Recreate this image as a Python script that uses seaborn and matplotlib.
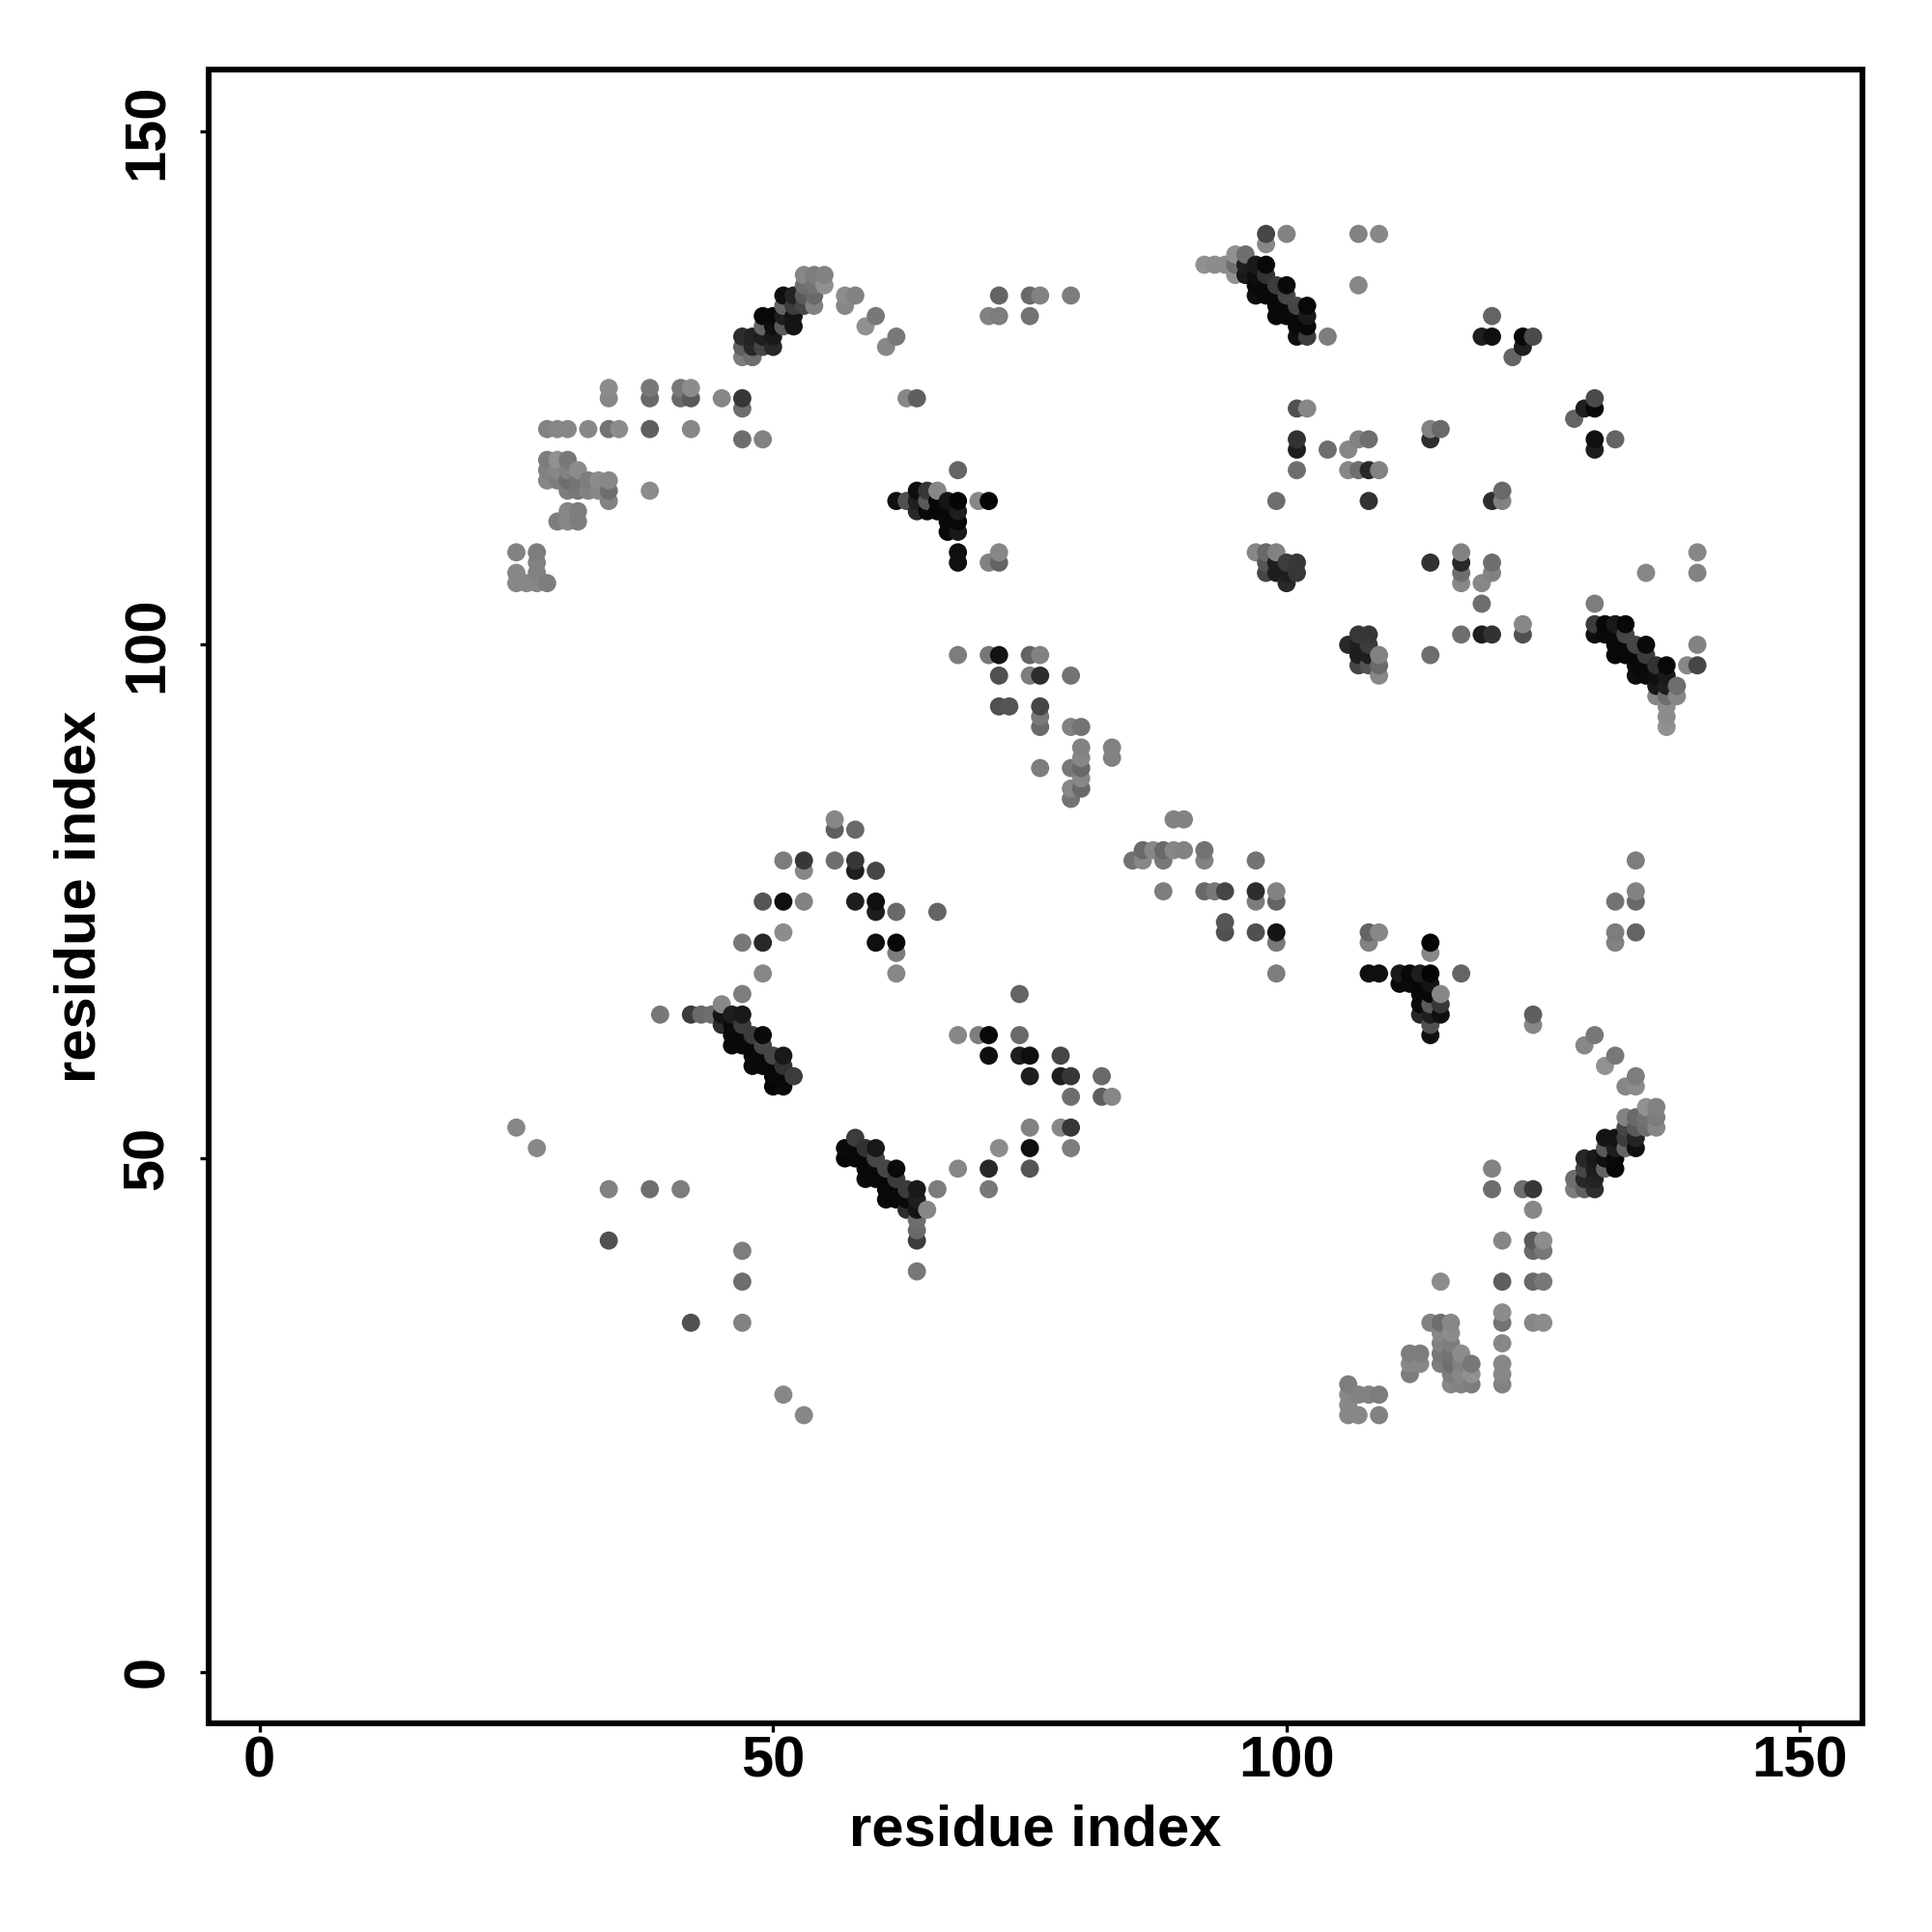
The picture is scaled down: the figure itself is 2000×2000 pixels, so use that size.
import pandas as pd
import seaborn as sns
import matplotlib.pyplot as plt

# residue on the x axis, then for each one its contacts and their grey level
residue_x = [25, 26, 27, 28, 29, 30, 31, 32, 33, 34, 35, 38, 39, 41, 42, 43, 44, 45, 46, 47,
             48, 49, 50, 51, 52, 53, 54, 55, 56, 57, 58, 59, 60, 61, 62, 63, 64, 65, 66, 67,
             68, 70, 71, 72, 73, 74, 75, 76, 78, 79, 80, 82, 83, 85, 86, 87, 88, 89, 90, 92,
             93, 94, 95, 96, 97, 98, 99, 100, 101, 102, 104, 106, 107, 108, 109, 111, 112, 113, 114, 115,
             116, 117, 118, 119, 120, 121, 122, 123, 124, 125, 128, 129, 130, 131, 132, 133, 134, 135, 136, 137,
             138, 139, 140]

residue_y = [
    [53, 106, 107, 109],
    [106],
    [51, 106, 107, 108, 109],
    [106, 116, 117, 118, 121],
    [112, 116, 117, 118, 121],
    [112, 113, 115, 116, 117, 118, 121],
    [112, 113, 115, 116, 117],
    [115, 116, 121],
    [115, 116],
    [42, 47, 114, 115, 116, 121, 124, 125],
    [121],
    [47, 115, 121, 124, 125],
    [64],
    [47, 124, 125],
    [34, 64, 121, 124, 125],
    [64],
    [64],
    [63, 64, 65, 124],
    [61, 62, 63, 64],
    [34, 38, 41, 61, 62, 63, 64, 66, 71, 120, 123, 124, 128, 129, 130],
    [59, 60, 61, 62, 128, 129, 130],
    [59, 60, 61, 62, 68, 71, 75, 120, 129, 130, 131, 132],
    [57, 58, 59, 60, 129, 130, 131, 132],
    [27, 57, 58, 59, 60, 72, 75, 79, 131, 132, 133, 134],
    [58, 131, 132, 133, 134],
    [25, 75, 78, 79, 133, 134, 135, 136],
    [133, 134, 135, 136],
    [135, 136],
    [79, 82, 83],
    [50, 51, 133, 134],
    [50, 51, 52, 75, 78, 79, 82, 134],
    [48, 49, 50, 51, 131],
    [48, 49, 50, 51, 71, 74, 75, 78, 132],
    [46, 47, 48, 49, 129],
    [46, 47, 48, 49, 68, 70, 71, 74, 114, 130],
    [45, 46, 47, 114, 124],
    [39, 42, 43, 44, 45, 46, 47, 113, 114, 115, 124],
    [45, 113, 114, 115],
    [47, 74, 113, 114, 115],
    [111, 112, 113, 114],
    [49, 62, 99, 108, 109, 111, 112, 113, 114, 117],
    [62, 114],
    [47, 49, 60, 62, 99, 108, 114, 132],
    [51, 94, 97, 99, 108, 109, 132, 134],
    [94],
    [60, 62, 66],
    [49, 51, 53, 58, 60, 97, 99, 132, 134],
    [88, 92, 93, 94, 97, 99, 134],
    [53, 58, 60],
    [51, 53, 56, 58, 85, 86, 88, 92, 97, 134],
    [86, 87, 88, 89, 90, 92],
    [56, 58],
    [56, 89, 90],
    [79],
    [79, 80],
    [80],
    [76, 79, 80],
    [80, 83],
    [80, 83],
    [76, 79, 80, 137],
    [76, 137],
    [72, 73, 76, 137],
    [136, 137, 138],
    [136, 137, 138],
    [72, 75, 76, 79, 109, 134, 135, 136, 137],
    [107, 108, 109, 134, 135, 136, 137, 139, 140],
    [68, 71, 72, 75, 76, 107, 108, 109, 114, 132, 133, 134, 135],
    [106, 107, 108, 132, 133, 134, 135, 140],
    [107, 108, 117, 119, 120, 123, 130, 131, 132, 133],
    [123, 130, 131, 132, 133],
    [119, 130],
    [25, 26, 27, 28, 100, 117, 119],
    [25, 27, 98, 99, 100, 101, 117, 120, 135, 140],
    [27, 68, 71, 72, 98, 99, 100, 101, 114, 117, 120],
    [25, 27, 68, 72, 97, 98, 99, 117, 140],
    [67, 68],
    [29, 30, 31, 67, 68],
    [30, 31, 64, 65, 66, 67, 68],
    [34, 62, 63, 64, 65, 66, 67, 68, 70, 71, 99, 108, 120, 121],
    [30, 31, 32, 33, 34, 38, 64, 65, 66, 121],
    [28, 29, 30, 31, 32, 33, 34],
    [28, 29, 30, 31, 68, 101, 106, 107, 108, 109],
    [28, 29, 30],
    [101, 104, 106, 130],
    [47, 49, 101, 107, 108, 114, 130, 132],
    [28, 29, 30, 32, 34, 35, 38, 42, 114, 115],
    [128],
    [47, 101, 102, 129, 130],
    [34, 38, 41, 42, 45, 47, 63, 64, 130],
    [34, 38, 41, 42],
    [47, 48, 122],
    [47, 48, 49, 50, 61, 123],
    [47, 48, 49, 50, 62, 101, 102, 104, 119, 120, 123, 124],
    [49, 50, 51, 52, 59, 101, 102],
    [49, 50, 51, 52, 60, 71, 72, 75, 99, 100, 101, 102, 120],
    [51, 52, 53, 54, 57, 99, 100, 101, 102],
    [51, 52, 53, 54, 57, 58, 72, 75, 76, 79, 97, 98, 99, 100],
    [53, 54, 55, 97, 98, 99, 100, 107],
    [53, 54, 55, 95, 96, 97, 98],
    [92, 93, 94, 95, 96, 97, 98],
    [95, 96],
    [98],
    [98, 100, 107, 109],
]

contact_grey = [
    [135, 135, 135, 130],
    [135],
    [135, 135, 130, 130, 125],
    [125, 135, 130, 125, 130],
    [125, 125, 135, 145, 135],
    [135, 135, 125, 110, 130, 120, 135],
    [125, 125, 120, 115, 140],
    [130, 125, 135],
    [135, 140],
    [80, 130, 130, 110, 135, 115, 135, 140],
    [140],
    [110, 140, 95, 105, 120],
    [120],
    [125, 105, 120],
    [80, 60, 135, 90, 140],
    [105],
    [110],
    [45, 20, 135, 135],
    [8, 8, 10, 30],
    [130, 110, 125, 8, 8, 60, 25, 125, 120, 110, 110, 55, 125, 95, 45],
    [10, 8, 8, 60, 110, 40, 35],
    [8, 8, 70, 10, 135, 40, 85, 130, 70, 30, 100, 8],
    [5, 8, 8, 70, 40, 25, 15, 8],
    [135, 10, 8, 50, 25, 140, 15, 125, 90, 30, 100, 15],
    [60, 20, 20, 60, 35],
    [135, 130, 135, 55, 70, 90, 110, 135],
    [130, 105, 115, 125],
    [145, 130],
    [110, 95, 135],
    [5, 10, 135, 140],
    [8, 8, 60, 30, 30, 55, 105, 130],
    [10, 8, 8, 50, 145],
    [8, 8, 70, 25, 15, 30, 15, 70, 120],
    [8, 8, 8, 70, 135],
    [8, 8, 60, 10, 135, 125, 8, 105, 15, 120],
    [45, 10, 60, 80, 135],
    [120, 60, 105, 110, 20, 30, 25, 40, 30, 15, 95],
    [135, 10, 90, 55],
    [125, 100, 8, 8, 135],
    [8, 10, 8, 20],
    [135, 135, 125, 15, 15, 25, 8, 30, 5, 100],
    [125, 135],
    [120, 40, 15, 8, 120, 130, 5, 130],
    [140, 80, 80, 20, 100, 135, 125, 100],
    [85],
    [30, 105, 100],
    [85, 15, 130, 30, 15, 125, 100, 115, 105],
    [125, 105, 120, 70, 45, 130, 130],
    [135, 30, 70],
    [125, 55, 110, 55, 115, 135, 120, 130, 115, 125],
    [105, 135, 105, 135, 130, 115],
    [95, 105],
    [135, 130, 130],
    [115],
    [135, 105],
    [135],
    [125, 120, 105],
    [135, 130],
    [130, 130],
    [105, 130, 115, 145],
    [120, 140],
    [80, 85, 70, 140],
    [145, 110, 145],
    [25, 30, 110],
    [80, 125, 45, 115, 135, 15, 10, 15, 25],
    [70, 85, 105, 10, 10, 50, 8, 135, 70],
    [125, 120, 20, 100, 130, 30, 30, 130, 110, 8, 8, 8, 60],
    [40, 30, 60, 8, 8, 70, 10, 130],
    [55, 55, 110, 30, 50, 80, 15, 10, 10, 70],
    [135, 60, 8, 25, 8],
    [110, 125],
    [135, 135, 135, 125, 40, 135, 135],
    [135, 130, 70, 30, 30, 55, 110, 130, 135, 130],
    [130, 15, 130, 100, 85, 30, 60, 55, 50, 40, 110],
    [130, 125, 15, 135, 135, 105, 130, 130, 135],
    [8, 25],
    [125, 135, 125, 10, 8],
    [135, 125, 40, 10, 8, 8, 30],
    [130, 15, 80, 30, 90, 8, 20, 5, 135, 5, 110, 50, 45, 130],
    [125, 120, 130, 135, 110, 140, 15, 55, 135, 105],
    [135, 125, 110, 115, 125, 140, 135],
    [130, 135, 130, 140, 100, 110, 135, 110, 40, 130],
    [125, 145, 120],
    [30, 110, 135, 30],
    [110, 130, 50, 130, 110, 45, 15, 100],
    [130, 135, 135, 135, 115, 140, 95, 135, 130, 105],
    [100],
    [110, 80, 135, 30, 8],
    [135, 105, 105, 90, 135, 55, 135, 95, 75],
    [140, 120, 120, 140],
    [125, 110, 100],
    [95, 40, 70, 40, 135, 30],
    [45, 35, 30, 25, 120, 15, 60, 125, 30, 15, 8, 75],
    [100, 15, 90, 20, 145, 10, 8],
    [8, 8, 30, 20, 120, 130, 125, 115, 8, 8, 10, 25, 100],
    [100, 60, 70, 130, 135, 8, 8, 70, 8],
    [15, 35, 90, 105, 140, 125, 100, 105, 130, 125, 15, 10, 8, 70],
    [110, 115, 145, 10, 10, 60, 10, 135],
    [135, 125, 130, 135, 25, 15, 50],
    [145, 140, 140, 110, 30, 25, 8],
    [135, 110],
    [135],
    [70, 130, 130, 135],
]

tick_values = [0, 50, 100, 150]
axis_label = 'residue index'

df = pd.DataFrame({'x': residue_x, 'y': residue_y, 'grey': contact_grey})
df = df.explode(['y', 'grey'])
df[['y', 'grey']] = df[['y', 'grey']].astype(float)

sns.set_style('white')
plt.rcParams['font.family'] = ['Liberation Sans', 'DejaVu Sans']
plt.rcParams['font.weight'] = 'bold'

fig = plt.figure(figsize=(10, 10), dpi=200)
ax = fig.add_axes([216.3 / 2000, 1 - 1784 / 2000, 1711.7 / 2000, 1712 / 2000])

sns.scatterplot(data=df, x='x', y='y', hue='grey', palette='gray', hue_norm=(0, 255),
                s=46, linewidth=0, legend=False, ax=ax)

ax.set_xlim(-4.93, 156.07)
ax.set_ylim(-5, 156)
ax.set_xticks(tick_values)
ax.set_yticks(tick_values)
ax.tick_params(axis='both', direction='out', length=3.3, width=1.2, color='black',
               labelsize=21.5, labelcolor='black', bottom=True, left=True)
ax.tick_params(axis='x', pad=1.3)
ax.tick_params(axis='y', pad=9.4)
plt.setp(ax.get_yticklabels(), rotation=90, va='center')

ax.set_xlabel(axis_label, fontsize=21.5, fontweight='bold', color='black', labelpad=5.5)
ax.set_ylabel(axis_label, fontsize=21.5, fontweight='bold', color='black', labelpad=5.6)

for spine in ax.spines.values():
    spine.set_visible(True)
    spine.set_color('black')
    spine.set_linewidth(2.15)

plt.savefig('out.png', dpi=200)
